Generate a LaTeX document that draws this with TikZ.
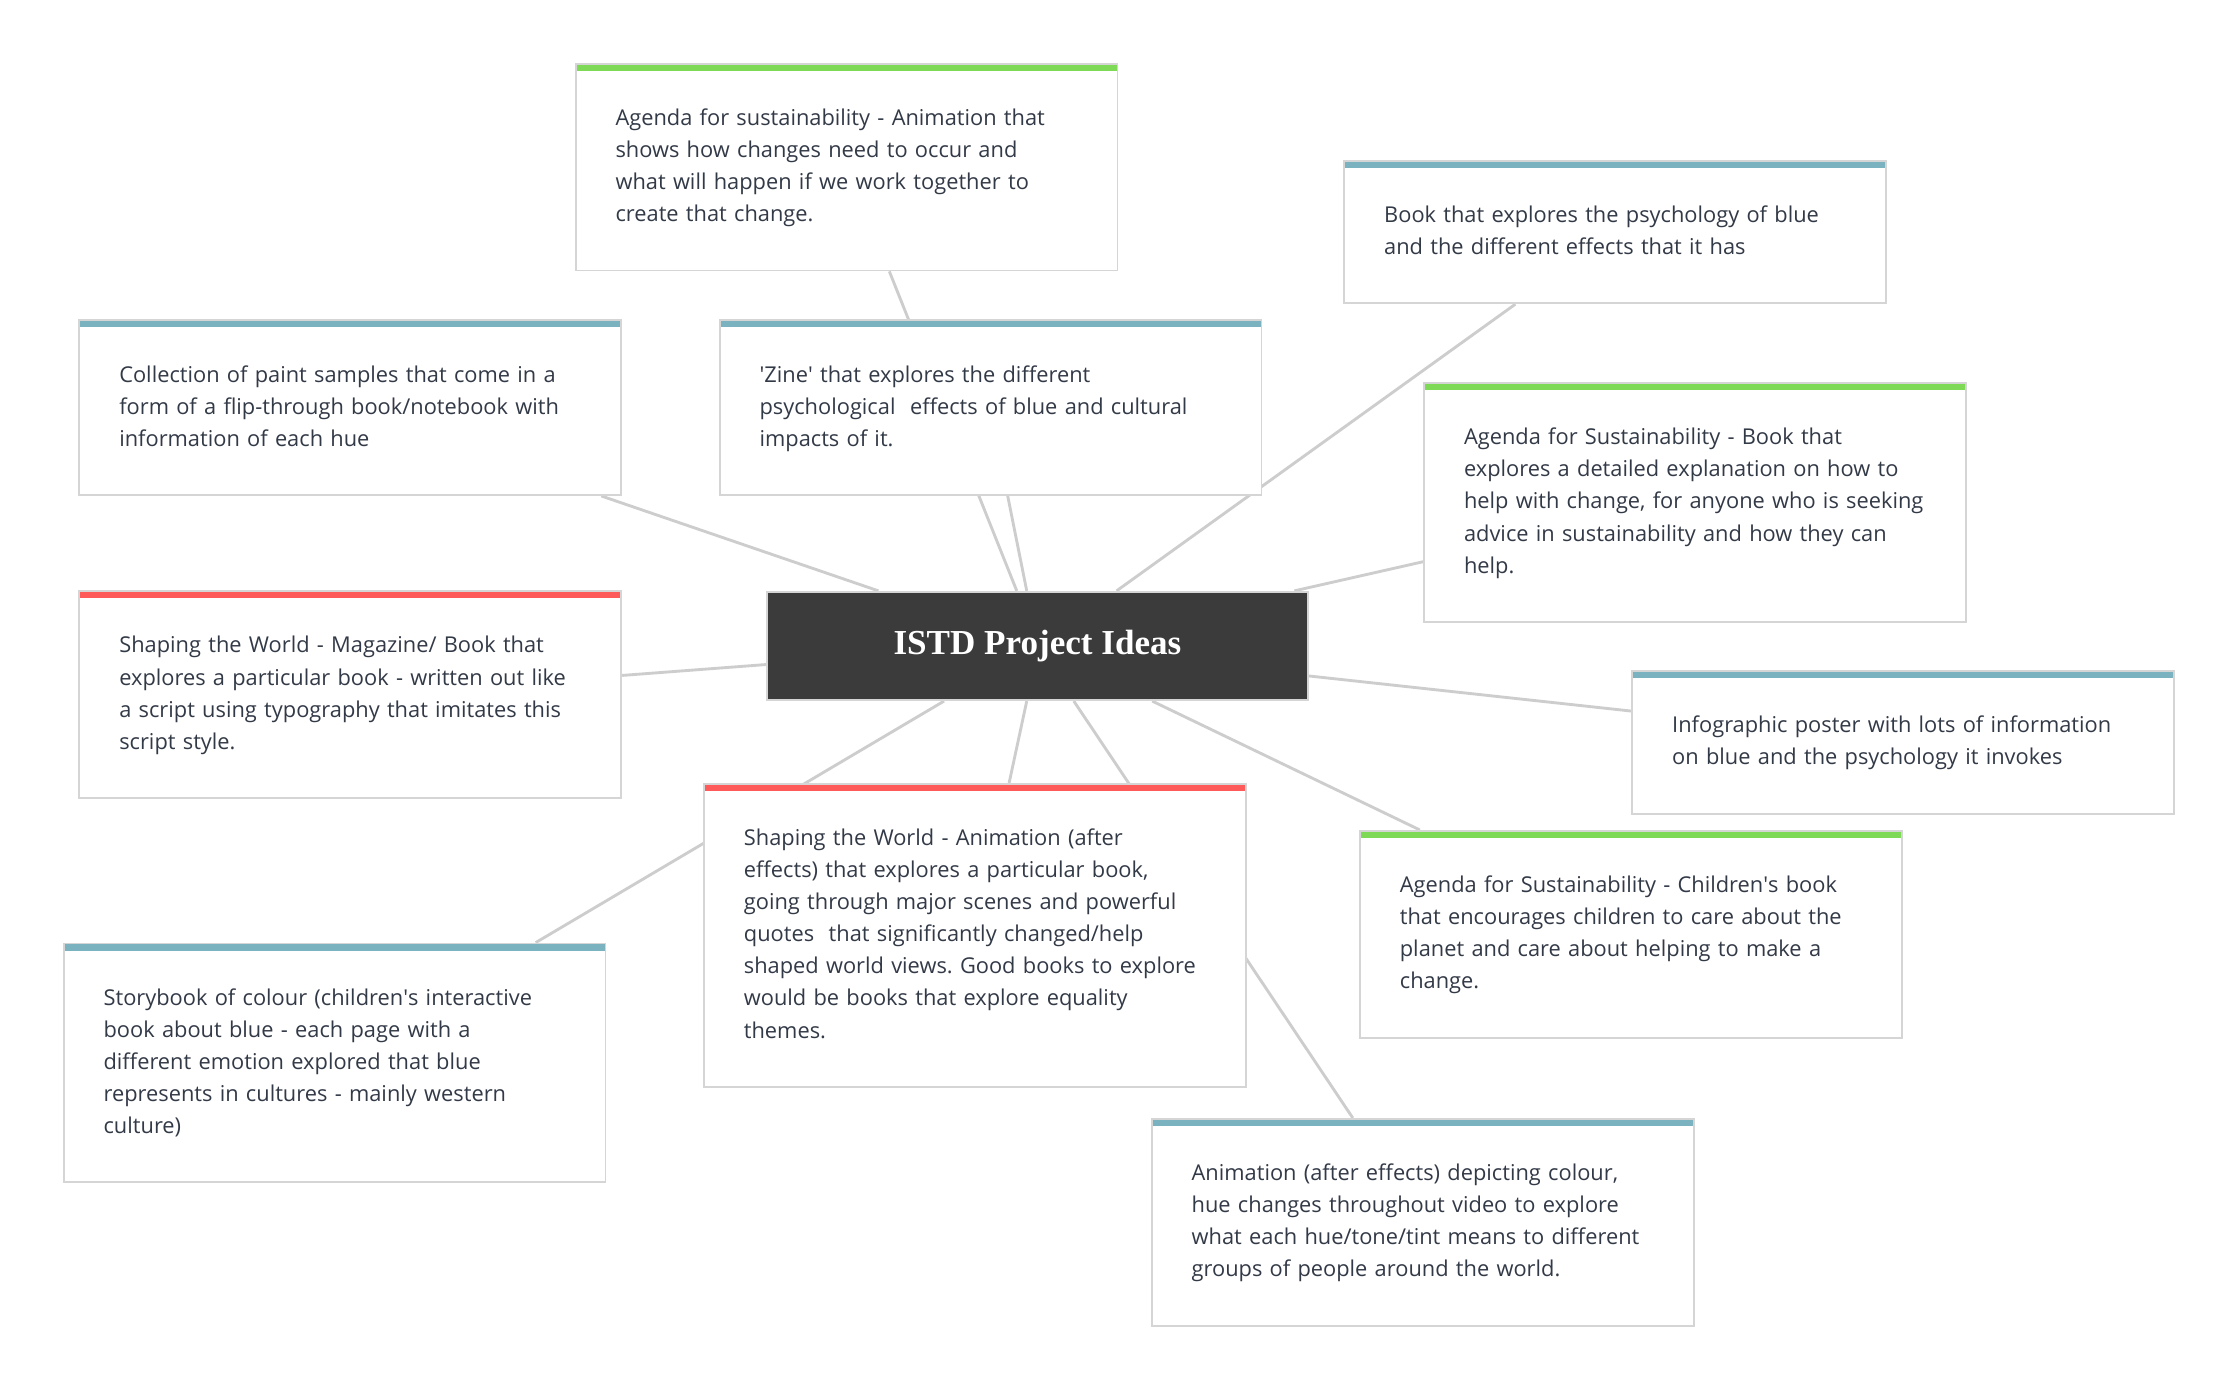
\documentclass[tikz,border=0pt]{standalone}
\usepackage{fontspec}
\setmainfont{Open Sans}
\newfontfamily\titlefont{Liberation Serif}
\usepackage{xcolor}
\usepackage{tikz}
\usetikzlibrary{backgrounds}
\definecolor{barGreen}{HTML}{7ED957}
\definecolor{barBlue}{HTML}{7AB3BF}
\definecolor{barRed}{HTML}{FF5A5A}
\definecolor{cardLine}{HTML}{D5D5D5}
\definecolor{linkGray}{HTML}{CDCDCD}
\definecolor{inkText}{HTML}{333A47}
\definecolor{hubFill}{HTML}{3B3B3B}
\frenchspacing

\begin{document}
\begin{tikzpicture}[x=1pt,y=-1pt,
    idea/.style={draw=cardLine,line width=1.3pt,fill=white,anchor=north west,
        text width=324pt,inner xsep=28pt,inner ysep=27.5pt,align=left,
        font=\fontsize{15.3}{22.5}\selectfont,text=inkText,
        execute at begin node=\strut,execute at end node=\strut,
        path picture={\fill[#1] (path picture bounding box.north west) rectangle ([yshift=-5pt]path picture bounding box.north east);}},
    hub/.style={draw=cardLine,line width=1.3pt,fill=hubFill,text=white,
        minimum width=379pt,minimum height=76pt,
        font=\titlefont\bfseries\fontsize{24.6}{28}\selectfont},
    link/.style={draw=linkGray,line width=2pt}]
    \useasboundingbox (0,0) rectangle (1568,973);
    \begin{scope}[on background layer]
        \fill[white] (0,0) rectangle (1568,973);
    \end{scope}
    % hub
    \node[hub] (istd) at (727.5,453) {ISTD Project Ideas};
    % ideas above the hub
    \node[idea=barGreen] (sustAnim) at (403,44) {Agenda for sustainability - Animation that\\shows how changes need to occur and\\what will happen if we work together to\\create that change.};
    \node[idea=barBlue] (bookPsy) at (942,112) {Book that explores the psychology of blue\\and the different effects that it has};
    \node[idea=barBlue] (paint) at (55,224) {Collection of paint samples that come in a\\form of a flip-through book/notebook with\\information of each hue};
    \node[idea=barBlue] (zine) at (504,224) {\textquotesingle Zine\textquotesingle{} that explores the different\\psychological\ \ effects of blue and cultural\\impacts of it.};
    \node[idea=barGreen] (sustBook) at (998,268) {Agenda for Sustainability - Book that\\explores a detailed explanation on how to\\help with change, for anyone who is seeking\\advice in sustainability and how they can\\help.};
    % ideas beside and below the hub
    \node[idea=barRed] (shapeMag) at (55,414) {Shaping the World - Magazine/ Book that\\explores a particular book - written out like\\a script using typography that imitates this\\script style.};
    \node[idea=barBlue] (info) at (1144,470) {Infographic poster with lots of information\\on blue and the psychology it invokes};
    \node[idea=barRed] (shapeAnim) at (493,549) {Shaping the World - Animation (after\\effects) that explores a particular book,\\going through major scenes and powerful\\quotes\ \ that significantly changed/help\\shaped world views. Good books to explore\\would be books that explore equality\\themes.};
    \node[idea=barGreen] (sustKids) at (953,582) {Agenda for Sustainability - Children\textquotesingle s book\\that encourages children to care about the\\planet and care about helping to make a\\change.};
    \node[idea=barBlue] (story) at (44,661) {Storybook of colour (children\textquotesingle s interactive\\book about blue - each page with a\\different emotion explored that blue\\represents in cultures - mainly western\\culture)};
    \node[idea=barBlue] (animCol) at (807,784) {Animation (after effects) depicting colour,\\hue changes throughout video to explore\\what each hue/tone/tint means to different\\groups of people around the world.};
    % links, kept under the cards
    \begin{scope}[on background layer]
        \draw[link] ([xshift=30pt]sustAnim.south) -- ([xshift=-14.5pt]istd.north);
        \draw[link] ([xshift=12pt]zine.south) -- ([xshift=-7.5pt]istd.north);
        \draw[link] ([xshift=-70pt]bookPsy.south) -- ([xshift=55.5pt]istd.north);
        \draw[link] ([xshift=176pt]paint.south) -- ([xshift=-111.5pt]istd.north);
        \draw[link] ([yshift=-41.5pt]sustBook.west) -- ([xshift=-10pt]istd.north east);
        \draw[link] ([yshift=13.5pt]shapeMag.east) -- ([yshift=-13pt]istd.west);
        \draw[link] ([yshift=22pt]info.west) -- ([yshift=-21pt]istd.east);
        \draw[link] ([xshift=-148pt]sustKids.north) -- ([xshift=80.5pt]istd.south);
        \draw[link] ([xshift=24pt]shapeAnim.north) -- ([xshift=-7.5pt]istd.south);
        \draw[link] ([xshift=141pt]story.north) -- ([xshift=-65.5pt]istd.south);
        \draw[link] ([xshift=-49pt]animCol.north) -- ([xshift=25.5pt]istd.south);
    \end{scope}
\end{tikzpicture}
\end{document}
